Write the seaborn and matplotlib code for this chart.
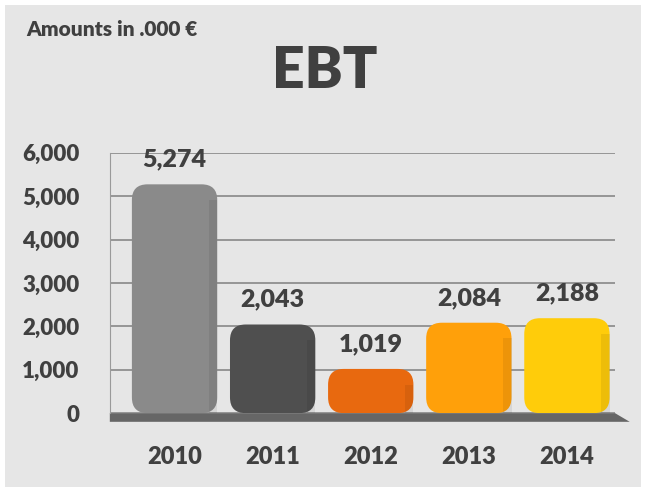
import numpy as np
import pandas as pd
import matplotlib
matplotlib.use('Agg')
import matplotlib.pyplot as plt
from matplotlib.patches import FancyBboxPatch, Polygon, Rectangle
import seaborn as sns

# chart data
years = ['2010', '2011', '2012', '2013', '2014']
ebt = [5274, 2043, 1019, 2084, 2188]
bar_colors = ['#8a8a8a', '#4f4f4f', '#e8690f', '#ffa00a', '#ffcc0a']
y_ticks = [0, 1000, 2000, 3000, 4000, 5000, 6000]

df = pd.DataFrame({'year': years, 'ebt': ebt})

sns.set_style('white')
plt.rcParams['font.family'] = ['Lato', 'DejaVu Sans']

text_col = '#404040'
bg = '#e6e6e6'
wt = 'heavy'

fig = plt.figure(figsize=(6.46, 4.93), dpi=100)
fig.patch.set_facecolor('white')
# grey panel, kept behind the axes
fig.patches.append(Rectangle((0.008, 0.012), 0.984, 0.978, transform=fig.transFigure,
                             facecolor=bg, edgecolor='none', zorder=-10))

ax = fig.add_axes([0.170, 0.162, 0.782, 0.528])
ax.set_facecolor('none')

sns.barplot(data=df, x='year', y='ebt', hue='year', palette=bar_colors,
            legend=False, width=0.87, ax=ax, zorder=3)

ax.set_xlim(-0.66, 4.49)
ax.set_ylim(0, 6000)

# swap plain bars for rounded ones
aspect = 6000 / 0.528 / 4.93 * (0.782 * 6.46) / 5.15
for patch, col in zip(list(ax.patches), bar_colors):
    x0, w, h = patch.get_x(), patch.get_width(), patch.get_height()
    patch.remove()
    ax.add_patch(FancyBboxPatch((x0, 0), w, h,
                                boxstyle='round,pad=0,rounding_size=0.16',
                                mutation_aspect=aspect,
                                facecolor=col, edgecolor='none', zorder=3))
    # slightly darker right side for a bit of depth
    ax.add_patch(Rectangle((x0 + w * 0.9, 0), w * 0.1, h - 0.16 * aspect,
                           facecolor='black', alpha=0.07, edgecolor='none', zorder=4))

ax.set_yticks(y_ticks)
ax.set_yticklabels([f'{v:,}' for v in y_ticks], fontweight=wt)
ax.set_xticks(range(len(years)))
ax.set_xticklabels(years, fontweight=wt)
ax.yaxis.grid(True, color='#888888', linewidth=1.2, zorder=1)
ax.xaxis.grid(False)
for s in ['top', 'right', 'bottom']:
    ax.spines[s].set_visible(False)
ax.spines['left'].set_color('#9a9a9a')
ax.tick_params(axis='y', length=0, pad=22, labelsize=16, labelcolor=text_col)
ax.tick_params(axis='x', length=0, pad=24, labelsize=17, labelcolor=text_col)
ax.set_xlabel('')
ax.set_ylabel('')

# grey floor
floor = Polygon([(-0.66, 0), (4.49, 0), (4.64, -200), (-0.66, -200)],
                closed=True, facecolor='#666666', edgecolor='none',
                clip_on=False, zorder=2)
ax.add_patch(floor)

# value labels
for i, v in enumerate(ebt):
    ax.text(i, v + 320, f'{v:,}', ha='center', va='bottom', fontsize=18,
            fontweight=wt, color=text_col, zorder=5)

fig.text(0.04, 0.94, 'Amounts in .000 €', fontsize=15, fontweight=wt,
         color=text_col, ha='left', va='center')
fig.text(0.503, 0.855, 'EBT', fontsize=41, fontweight=wt,
         color=text_col, ha='center', va='center')

fig.savefig('out.png', dpi=100, facecolor=fig.get_facecolor())
